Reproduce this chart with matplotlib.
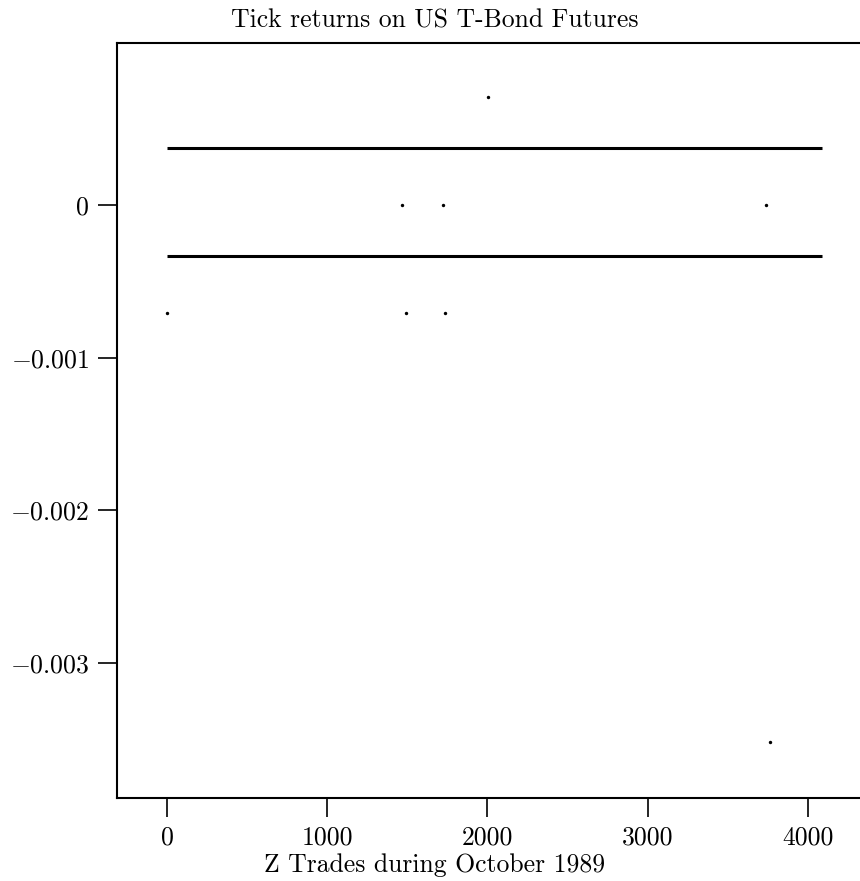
import matplotlib
matplotlib.use("Agg")
import matplotlib.pyplot as plt

plt.rcParams['font.family'] = 'serif'
plt.rcParams['font.serif'] = ['cmr10', 'DejaVu Serif']
plt.rcParams['mathtext.fontset'] = 'cm'
plt.rcParams['axes.unicode_minus'] = True

# Data
title_text = "Tick returns on US T-Bond Futures"
xlabel_text = "Z Trades during October 1989"

# dense +/- one-tick returns (drawn as horizontal bands)
band_levels = [0.000371, -0.000332]
band_start = [0, 0]
band_end = [4090, 4090]

# isolated returns
dot_x = [2, 1465, 1725, 1490, 1737, 2004, 3738, 3763]
dot_y = [-0.000705, 0.0, 0.0, -0.000705, -0.000705, 0.000707, 0.0, -0.003515]

xticks = [0, 1000, 2000, 3000, 4000]
xtick_labels = ["0", "1000", "2000", "3000", "4000"]
yticks = [-0.003, -0.002, -0.001, 0.0]
ytick_labels = [r"$-0.003$", r"$-0.002$", r"$-0.001$", r"$0$"]

W, H = 860, 881
fig = plt.figure(figsize=(W / 100, H / 100), dpi=100)
left, right, top, bottom = 117, 860, 43, 798
ax = fig.add_axes([left / W, 1 - bottom / H, (right - left) / W, (bottom - top) / H])

for lvl, s, e in zip(band_levels, band_start, band_end):
    ax.hlines(lvl, s, e, color='black', linewidth=2.2)
ax.scatter(dot_x, dot_y, s=6, color='black', linewidths=0)

ax.set_xlim(-312, 4326)
ax.set_ylim(-0.003884, 0.001061)

ax.set_xticks(xticks)
ax.set_xticklabels(xtick_labels)
ax.set_yticks(yticks)
ax.set_yticklabels(ytick_labels)

fs = 18.5
ax.tick_params(axis='both', direction='out', length=14, width=1.2, labelsize=fs)
ax.tick_params(axis='y', pad=6)
ax.tick_params(axis='x', pad=6)
for sp in ['left', 'top', 'bottom']:
    ax.spines[sp].set_linewidth(1.5)
ax.spines['right'].set_visible(False)

fig.text(435 / W, 1 - 28 / H, title_text, ha='center', va='baseline', fontsize=fs)
fig.text(435 / W, 1 - 872 / H, xlabel_text, ha='center', va='baseline', fontsize=fs)

fig.savefig("out.png", dpi=100, facecolor='white')
